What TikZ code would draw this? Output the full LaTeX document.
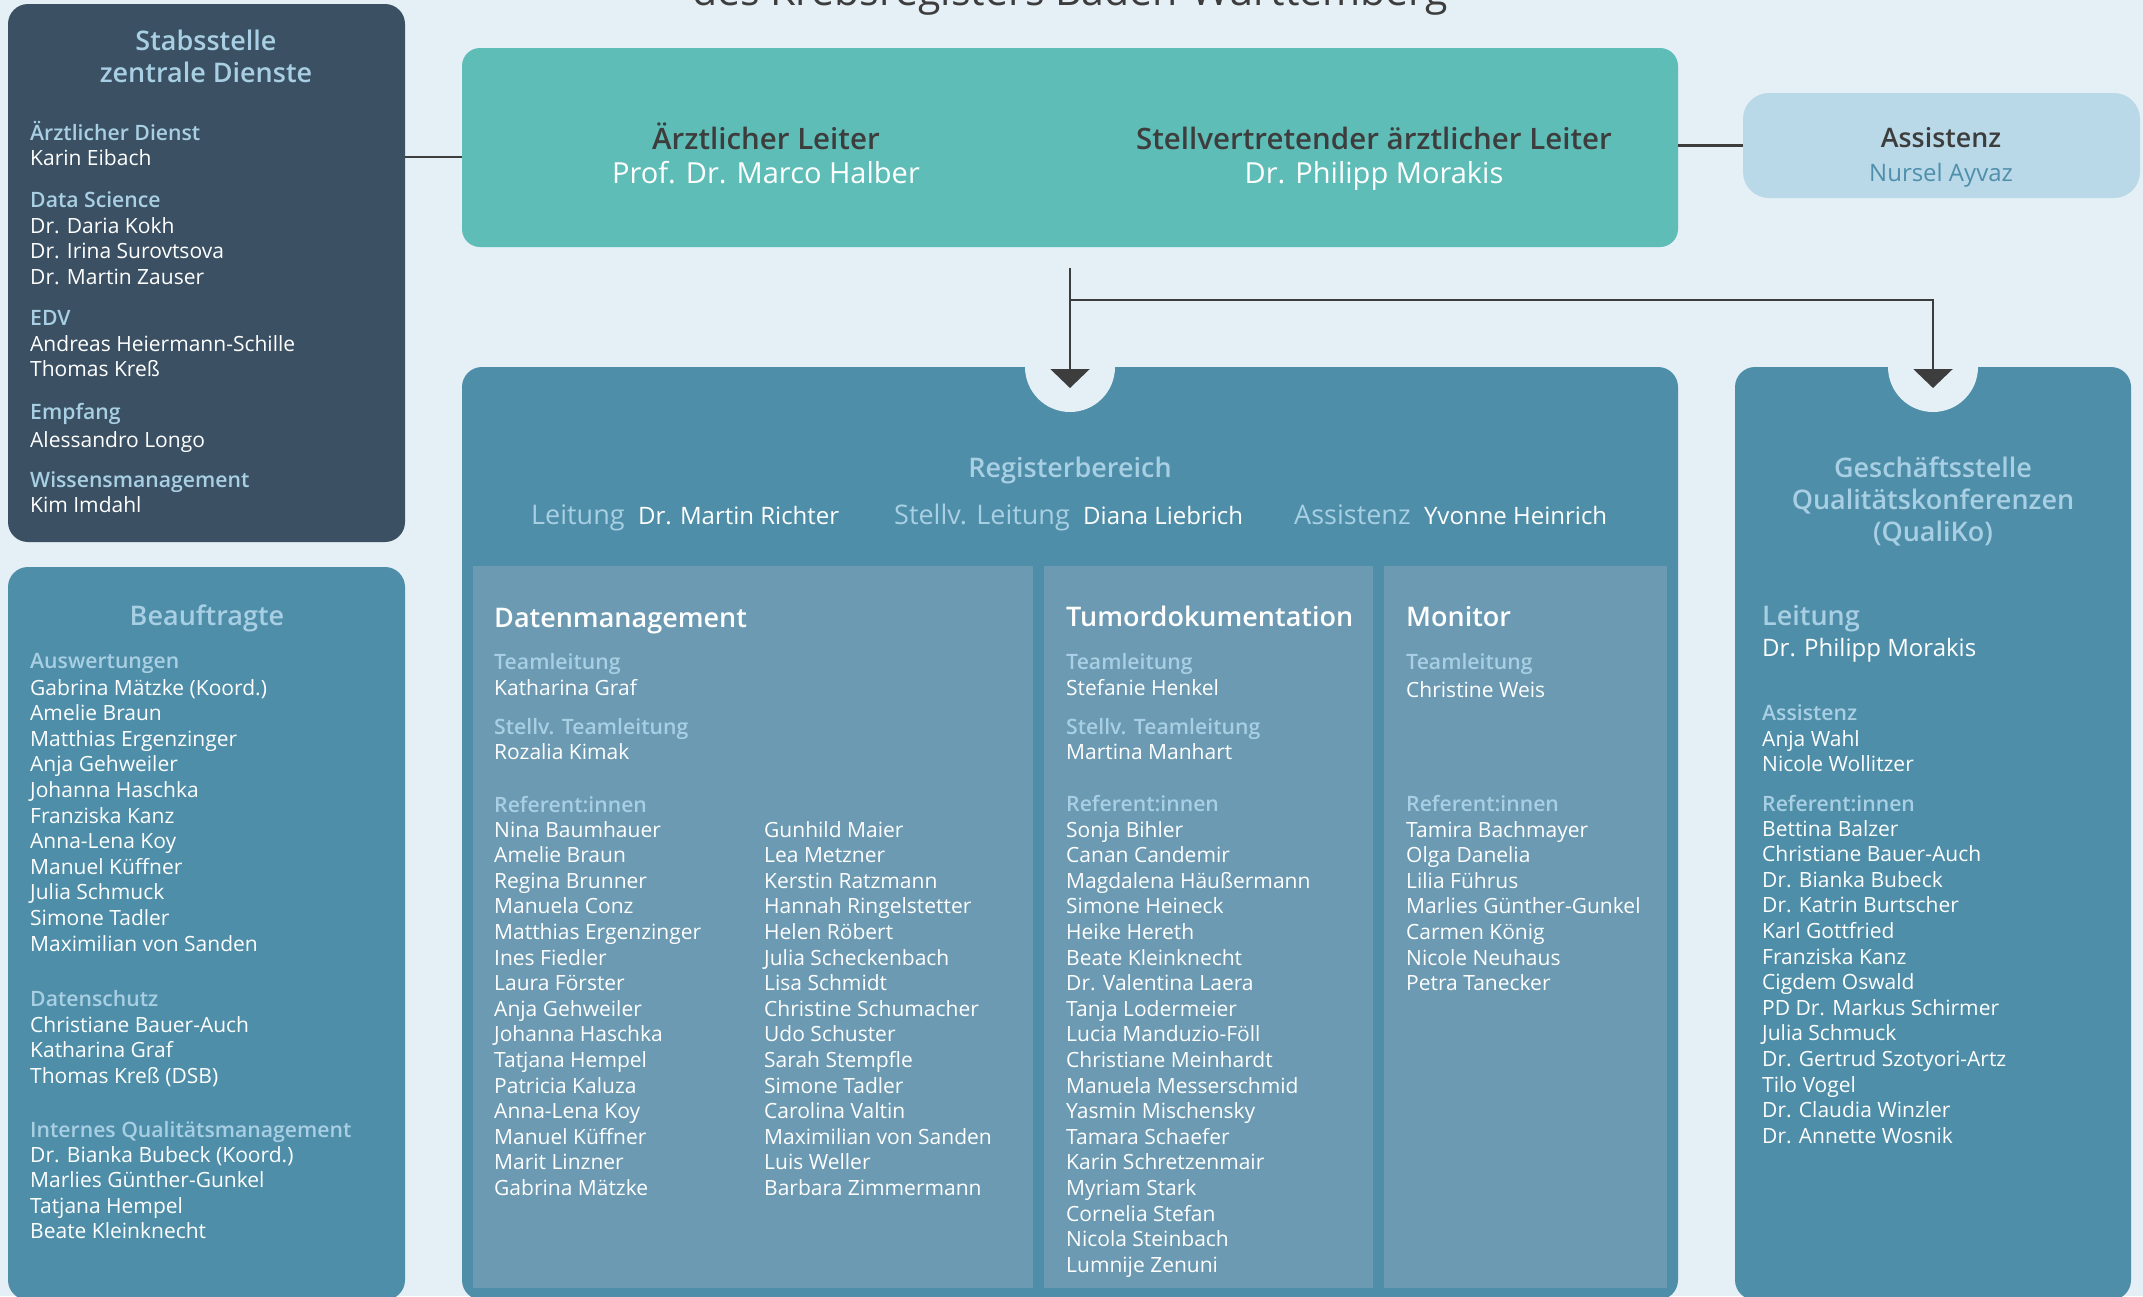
\documentclass[tikz,border=0pt]{standalone}
\usepackage{fontspec}
\IfFontExistsTF{Open Sans SemiBold}
  {\setmainfont{Open Sans}[BoldFont={Open Sans SemiBold}]}
  {\IfFontExistsTF{Open Sans Semibold}
    {\setmainfont{Open Sans}[BoldFont={Open Sans Semibold}]}
    {\setmainfont{Open Sans}}}
\usetikzlibrary{arrows.meta,positioning}

\definecolor{bgblue}{HTML}{E4EFF6}
\definecolor{slate}{HTML}{3B5163}
\definecolor{leadteal}{HTML}{5FBDB8}
\definecolor{paleblue}{HTML}{B9D9E8}
\definecolor{regblue}{HTML}{4E8EA8}
\definecolor{panelblue}{HTML}{6B9AB2}
\definecolor{lblblue}{HTML}{A8CFE3}
\definecolor{inkgray}{HTML}{3D3D3D}
\definecolor{nurselblue}{HTML}{4F8FAB}

% one name per line, 25.6pt apart
\newcommand{\namelist}[4]{%
  \foreach \nm [count=\k] in {#4}
    \node[person] (#1-\k) at (#2,{#3+(\k-1)*25.6}) {\nm};}

\begin{document}
\begin{tikzpicture}[x=1pt,y=-1pt,
    box/.style={anchor=north west, inner sep=0pt, outer sep=0pt, rounded corners=20pt},
    panel/.style={anchor=north west, inner sep=0pt, outer sep=0pt, fill=panelblue},
    conn/.style={draw=inkgray, line width=2.5pt},
    arr/.style={conn, -{Triangle[width=39pt,length=19pt]}},
    person/.style={anchor=base west, inner sep=0pt, text=white, font=\fontsize{21}{25.6}\selectfont},
    role/.style={anchor=base west, inner sep=0pt, text=lblblue, font=\fontsize{21.2}{25.6}\selectfont\bfseries},
    boxtitle/.style={anchor=base, inner sep=0pt, text=lblblue, font=\fontsize{27}{32}\selectfont\bfseries},
    teamtitle/.style={anchor=base west, inner sep=0pt, text=white, font=\fontsize{27}{32}\selectfont\bfseries},
    leadtitle/.style={anchor=base, inner sep=0pt, text=inkgray, font=\fontsize{29.5}{34}\selectfont\bfseries},
    leadname/.style={anchor=base, inner sep=0pt, text=white, font=\fontsize{29}{34}\selectfont},
    rowlbl/.style={anchor=base west, inner sep=0pt, text=lblblue, font=\fontsize{27}{32}\selectfont},
    rowname/.style={anchor=base west, inner sep=0pt, text=white, font=\fontsize{24}{30}\selectfont},
  ]
  \useasboundingbox (0,0) rectangle (2143,1296);
  \fill[bgblue] (0,0) rectangle (2143,1296);

  % heading, cut off at the top edge
  \node[anchor=base, inner sep=0pt, text=inkgray, font=\fontsize{41}{48}\selectfont] (title) at (1070,5) {des Krebsregisters Baden-Württemberg};

  % boxes
  \node[box, fill=slate, minimum width=397pt, minimum height=538pt] (stab) at (8,4) {};
  \node[box, fill=regblue, minimum width=397pt, minimum height=733pt] (beauf) at (8,567) {};
  \node[box, fill=leadteal, minimum width=1216pt, minimum height=199pt, rounded corners=18pt] (lead) at (462,48) {};
  \node[box, fill=paleblue, minimum width=397pt, minimum height=105pt, rounded corners=26pt] (asst) at (1743,93) {};
  \node[box, fill=regblue, minimum width=1216pt, minimum height=933pt] (reg) at (462,367) {};
  \node[box, fill=regblue, minimum width=396pt, minimum height=933pt] (quali) at (1735,367) {};
  \node[panel, minimum width=560pt, minimum height=722pt] (dm) at (473,566) {};
  \node[panel, minimum width=329pt, minimum height=722pt] (td) at (1044,566) {};
  \node[panel, minimum width=283pt, minimum height=722pt] (mon) at (1384,566) {};

  % notches for the arrows
  \fill[bgblue] (reg.north) circle (45pt);
  \fill[bgblue] (quali.north) circle (45pt);

  % connectors
  \coordinate (stabrow) at (0,157);
  \draw[conn] (stab.east |- stabrow) -- (lead.west |- stabrow);
  \draw[conn] (lead.east |- asst.west) -- (asst.west);
  \coordinate (split) at ([yshift=-21pt]lead.south);
  \coordinate (fork) at (1070,300);
  \draw[arr] (split) -- ([yshift=-21pt]reg.north);
  \draw[arr] (fork) -| ([yshift=-21pt]quali.north);

  % Stabsstelle
  \node[boxtitle] (stab-t1) at (206,50) {Stabsstelle};
  \node[boxtitle] (stab-t2) at (206,82) {zentrale Dienste};
  \node[role] (stab-r1) at (30,140) {Ärztlicher Dienst};
  \namelist{stab-a}{30}{165}{Karin Eibach}
  \node[role] (stab-r2) at (30,207) {Data Science};
  \namelist{stab-b}{30}{233}{Dr. Daria Kokh, Dr. Irina Surovtsova, Dr. Martin Zauser}
  \node[role] (stab-r3) at (30,325) {EDV};
  \namelist{stab-c}{30}{351}{Andreas Heiermann-Schille, Thomas Kreß}
  \node[role] (stab-r4) at (30,419) {Empfang};
  \namelist{stab-d}{30}{447}{Alessandro Longo}
  \node[role] (stab-r5) at (30,487) {Wissensmanagement};
  \namelist{stab-e}{30}{512}{Kim Imdahl}

  % Leitung
  \node[leadtitle] (lead-t1) at (766,149) {Ärztlicher Leiter};
  \node[leadname] (lead-n1) at (766,183) {Prof. Dr. Marco Halber};
  \node[leadtitle] (lead-t2) at (1374,149) {Stellvertretender ärztlicher Leiter};
  \node[leadname] (lead-n2) at (1374,183) {Dr. Philipp Morakis};

  % Assistenz
  \node[leadtitle, font=\fontsize{26.8}{30}\selectfont\bfseries] (asst-t) at (1941,147) {Assistenz};
  \node[anchor=base, inner sep=0pt, text=nurselblue, font=\fontsize{24}{30}\selectfont] (asst-n) at (1941,181) {Nursel Ayvaz};

  % Beauftragte
  \node[boxtitle] (beauf-t) at (207,625) {Beauftragte};
  \node[role] (beauf-r1) at (30,668) {Auswertungen};
  \namelist{beauf-a}{30}{695}{Gabrina Mätzke (Koord.), Amelie Braun, Matthias Ergenzinger, Anja Gehweiler, Johanna Haschka, Franziska Kanz, Anna-Lena Koy, Manuel Küffner, Julia Schmuck, Simone Tadler, Maximilian von Sanden}
  \node[role] (beauf-r2) at (30,1006) {Datenschutz};
  \namelist{beauf-b}{30}{1032}{Christiane Bauer-Auch, Katharina Graf, Thomas Kreß (DSB)}
  \node[role] (beauf-r3) at (30,1137) {Internes Qualitätsmanagement};
  \namelist{beauf-c}{30}{1162}{Dr. Bianka Bubeck (Koord.), Marlies Günther-Gunkel, Tatjana Hempel, Beate Kleinknecht}

  % Registerbereich
  \node[boxtitle] (reg-t) at (1070,477) {Registerbereich};
  \node[rowlbl] (reg-l1) at (531,524) {Leitung};
  \node[rowname] (reg-n1) at ([xshift=13pt]reg-l1.base east) {Dr. Martin Richter};
  \node[rowlbl] (reg-l2) at (894,524) {Stellv. Leitung};
  \node[rowname] (reg-n2) at ([xshift=13pt]reg-l2.base east) {Diana Liebrich};
  \node[rowlbl] (reg-l3) at (1294,524) {Assistenz};
  \node[rowname] (reg-n3) at ([xshift=13pt]reg-l3.base east) {Yvonne Heinrich};

  % Datenmanagement
  \node[teamtitle] (dm-t) at (494,627) {Datenmanagement};
  \node[role] (dm-r1) at (494,669) {Teamleitung};
  \namelist{dm-a}{494}{695}{Katharina Graf}
  \node[role] (dm-r2) at (494,734) {Stellv. Teamleitung};
  \namelist{dm-b}{494}{759}{Rozalia Kimak}
  \node[role] (dm-r3) at (494,812) {Referent:innen};
  \namelist{dm-c}{494}{837}{Nina Baumhauer, Amelie Braun, Regina Brunner, Manuela Conz, Matthias Ergenzinger, Ines Fiedler, Laura Förster, Anja Gehweiler, Johanna Haschka, Tatjana Hempel, Patricia Kaluza, Anna-Lena Koy, Manuel Küffner, Marit Linzner, Gabrina Mätzke}
  \namelist{dm-d}{764}{837}{Gunhild Maier, Lea Metzner, Kerstin Ratzmann, Hannah Ringelstetter, Helen Röbert, Julia Scheckenbach, Lisa Schmidt, Christine Schumacher, Udo Schuster, Sarah Stempfle, Simone Tadler, Carolina Valtin, Maximilian von Sanden, Luis Weller, Barbara Zimmermann}

  % Tumordokumentation
  \node[teamtitle] (td-t) at (1066,626) {Tumordokumentation};
  \node[role] (td-r1) at (1066,669) {Teamleitung};
  \namelist{td-a}{1066}{695}{Stefanie Henkel}
  \node[role] (td-r2) at (1066,734) {Stellv. Teamleitung};
  \namelist{td-b}{1066}{759}{Martina Manhart}
  \node[role] (td-r3) at (1066,811) {Referent:innen};
  \namelist{td-c}{1066}{837}{Sonja Bihler, Canan Candemir, Magdalena Häußermann, Simone Heineck, Heike Hereth, Beate Kleinknecht, Dr. Valentina Laera, Tanja Lodermeier, Lucia Manduzio-Föll, Christiane Meinhardt, Manuela Messerschmid, Yasmin Mischensky, Tamara Schaefer, Karin Schretzenmair, Myriam Stark, Cornelia Stefan, Nicola Steinbach, Lumnije Zenuni}

  % Monitor
  \node[teamtitle] (mon-t) at (1406,626) {Monitor};
  \node[role] (mon-r1) at (1406,669) {Teamleitung};
  \namelist{mon-a}{1406}{697}{Christine Weis}
  \node[role] (mon-r2) at (1406,811) {Referent:innen};
  \namelist{mon-b}{1406}{837}{Tamira Bachmayer, Olga Danelia, Lilia Führus, Marlies Günther-Gunkel, Carmen König, Nicole Neuhaus, Petra Tanecker}

  % QualiKo
  \node[boxtitle] (quali-t1) at (1933,477) {Geschäftsstelle};
  \node[boxtitle] (quali-t2) at (1933,509) {Qualitätskonferenzen};
  \node[boxtitle] (quali-t3) at (1933,541) {(QualiKo)};
  \node[rowlbl, font=\fontsize{27}{32}\selectfont\bfseries] (quali-l) at (1762,625) {Leitung};
  \node[rowname] (quali-n) at (1762,656) {Dr. Philipp Morakis};
  \node[role] (quali-r1) at (1762,720) {Assistenz};
  \namelist{quali-a}{1762}{746}{Anja Wahl, Nicole Wollitzer}
  \node[role] (quali-r2) at (1762,811) {Referent:innen};
  \namelist{quali-b}{1762}{836}{Bettina Balzer, Christiane Bauer-Auch, Dr. Bianka Bubeck, Dr. Katrin Burtscher, Karl Gottfried, Franziska Kanz, Cigdem Oswald, PD Dr. Markus Schirmer, Julia Schmuck, Dr. Gertrud Szotyori-Artz, Tilo Vogel, Dr. Claudia Winzler, Dr. Annette Wosnik}
\end{tikzpicture}
\end{document}
